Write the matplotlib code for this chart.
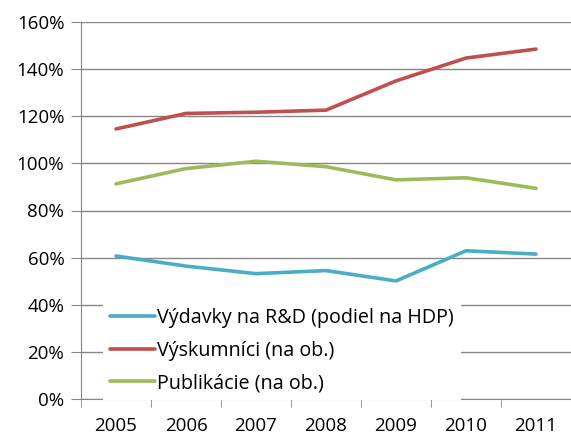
import matplotlib
matplotlib.use("Agg")
import matplotlib.pyplot as plt
import numpy as np
from matplotlib.ticker import PercentFormatter

years = ["2005", "2006", "2007", "2008", "2009", "2010", "2011"]
vydavky = [60.7, 56.4, 53.2, 54.5, 50.1, 62.9, 61.5]
vyskumnici = [114.6, 121.2, 121.7, 122.6, 135.0, 144.7, 148.5]
publikacie = [91.3, 97.8, 100.9, 98.6, 93.0, 93.9, 89.4]

labels = ["Výdavky na R&D (podiel na HDP)", "Výskumníci (na ob.)", "Publikácie (na ob.)"]
colors = ["#4BACC6", "#C0504D", "#9BBB59"]

plt.rcParams['font.family'] = ['Open Sans', 'DejaVu Sans']

fig = plt.figure(figsize=(5.71, 4.37), dpi=100)
ax = fig.add_axes([81 / 571, 1 - 399 / 437, 490 / 571, 377 / 437])

x = np.arange(len(years))
for vals, lab, col in zip([vydavky, vyskumnici, publikacie], labels, colors):
    ax.plot(x, vals, color=col, lw=2.6, label=lab, solid_capstyle='round')

ax.set_ylim(0, 160)
ax.set_yticks(np.arange(0, 161, 20))
ax.yaxis.set_major_formatter(PercentFormatter(decimals=0))
ax.set_xlim(-0.5, -0.5 + 490 / 70.3)
ax.set_xticks(x)
ax.set_xticklabels(years)
ax.set_xticks(np.arange(-0.5, 7, 1), minor=True)
ax.tick_params(axis='x', which='major', length=0, pad=13, labelsize=13.5)
ax.tick_params(axis='x', which='minor', length=6, color='#868686', direction='out')
ax.tick_params(axis='y', length=7, color='#868686', labelsize=13.5, pad=5)

ax.grid(axis='y', color='#868686', lw=1)
ax.set_axisbelow(True)
for s in ['top', 'right']:
    ax.spines[s].set_visible(False)
for s in ['left', 'bottom']:
    ax.spines[s].set_color('#868686')

leg = ax.legend(loc='upper left', bbox_to_anchor=(103 / 571, 1 - 301 / 437),
                bbox_transform=fig.transFigure, fontsize=14.2, frameon=True,
                fancybox=False, edgecolor='none', facecolor='white', framealpha=1,
                handlelength=2.3, handletextpad=0.1, labelspacing=0.64,
                borderpad=0.35, borderaxespad=0)

fig.savefig("out.png", dpi=100)
